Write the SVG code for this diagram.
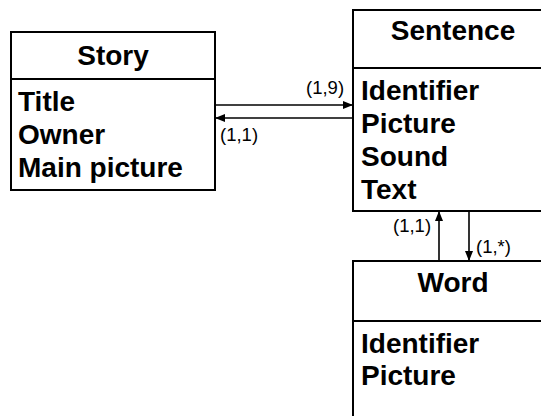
<svg xmlns="http://www.w3.org/2000/svg" width="541" height="416" viewBox="0 0 541 416">
<defs>
<style>
.box{fill:#fff;stroke:#000;stroke-width:2}
.div{stroke:#000;stroke-width:2}
.title{font-family:"Liberation Sans",Arial,sans-serif;font-weight:bold;font-size:28px;fill:#000;text-anchor:middle}
.attr{font-family:"Liberation Sans",Arial,sans-serif;font-weight:bold;font-size:28px;fill:#000}
.lbl{font-family:"Liberation Sans",Arial,sans-serif;font-size:18.5px;fill:#000}
.conn{stroke:#000;stroke-width:1.6;fill:none;marker-end:url(#arr)}
</style>
<marker id="arr" viewBox="0 0 10 8" refX="10" refY="4" markerWidth="10" markerHeight="8" markerUnits="userSpaceOnUse" orient="auto">
<path d="M0,0 L10,4 L0,8 Z" fill="#000"/>
</marker>
</defs>
<rect width="541" height="416" fill="#fff"/>
<g id="story">
<rect class="box" x="11" y="32" width="204" height="158"/>
<line class="div" x1="11" y1="79" x2="215" y2="79"/>
<text class="title" x="113" y="65">Story</text>
<text class="attr" x="18" y="111">Title</text>
<text class="attr" x="18" y="144">Owner</text>
<text class="attr" x="18" y="177">Main picture</text>
</g>
<g id="sentence">
<rect class="box" x="353" y="10" width="210" height="201"/>
<line class="div" x1="353" y1="68" x2="563" y2="68"/>
<text class="title" x="453" y="40">Sentence</text>
<text class="attr" x="361" y="100">Identifier</text>
<text class="attr" x="361" y="133">Picture</text>
<text class="attr" x="361" y="166">Sound</text>
<text class="attr" x="361" y="199">Text</text>
</g>
<g id="word">
<rect class="box" x="353" y="261" width="210" height="180"/>
<line class="div" x1="353" y1="321" x2="563" y2="321"/>
<text class="title" x="453" y="292">Word</text>
<text class="attr" x="361" y="353">Identifier</text>
<text class="attr" x="361" y="385">Picture</text>
</g>
<g id="connectors">
<line class="conn" x1="215" y1="105" x2="353" y2="105"/>
<line class="conn" x1="353" y1="118" x2="215" y2="118"/>
<line class="conn" x1="439" y1="261" x2="439" y2="211"/>
<line class="conn" x1="469" y1="211" x2="469" y2="261"/>
<text class="lbl" x="306" y="94">(1,9)</text>
<text class="lbl" x="220" y="141">(1,1)</text>
<text class="lbl" x="393" y="232">(1,1)</text>
<text class="lbl" x="476" y="253">(1,*)</text>
</g>
</svg>
